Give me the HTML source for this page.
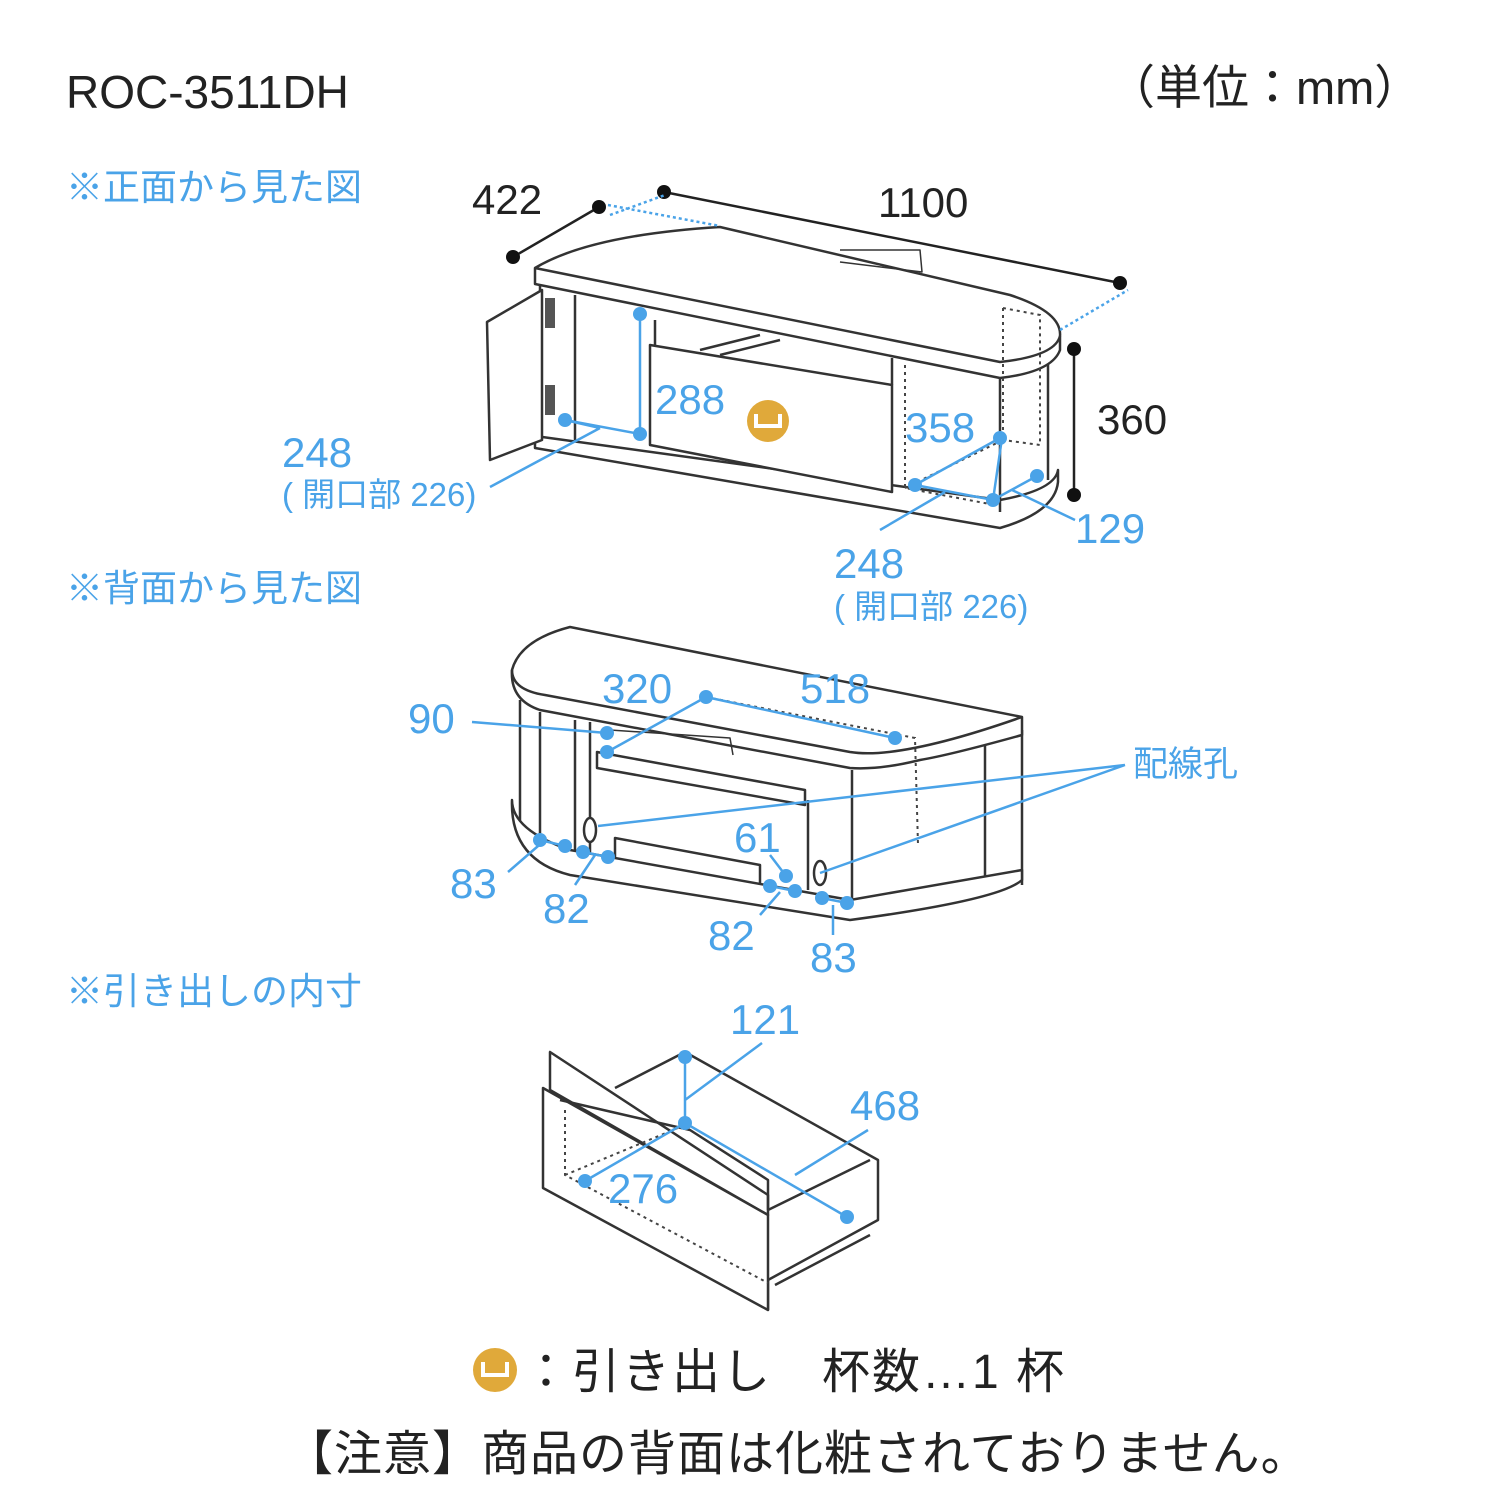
<!DOCTYPE html>
<html><head><meta charset="utf-8"><style>
html,body{margin:0;padding:0;background:#fff;width:1500px;height:1500px;overflow:hidden}
svg text{font-family:"Liberation Sans","Noto Sans CJK JP",sans-serif}
</style></head><body>
<svg width="1500" height="1500" viewBox="0 0 1500 1500" xmlns="http://www.w3.org/2000/svg">
<g fill="#222">
<text x="66" y="108" font-size="46">ROC-3511DH</text>
<text x="1108" y="104" font-size="47">（単位：mm）</text>
</g>
<g fill="#4aa3e8" font-size="37">
<text x="66" y="200">※正面から見た図</text>
<text x="66" y="601">※背面から見た図</text>
<text x="66" y="1004">※引き出しの内寸</text>
</g>

<!-- FRONT VIEW -->
<g fill="#fff" stroke="#333" stroke-width="2.5" stroke-linejoin="round">
<path d="M535,436 L1000,500 Q1055,490 1058,470 L1058,482 Q1055,512 1000,528 L535,448 Z"/>
<path d="M540,285 L540,438 M575,295 L575,440 M1000,378 L1000,512 M1048,355 L1048,480"/>
<path d="M487,322 L542,290 L542,440 L490,460 Z"/>
<path d="M650,345 L892,385 L892,492 L650,445 Z"/>
<path d="M655,320 L655,345 M892,358 L892,385 M700,350 L760,335 M720,355 L780,340"/>
<path d="M535,268 Q590,235 720,227 L1010,295 Q1062,312 1060,336 L1060,350 Q1052,372 1000,378 L535,284 Z"/>
<path d="M535,268 L1000,362 Q1055,356 1060,336" fill="none"/>
<path d="M840,250 L920,250 L922,272 L840,262" fill="none" stroke-width="1.5"/>
</g>
<g fill="none" stroke="#444" stroke-width="2" stroke-dasharray="3,4">
<path d="M905,365 L905,488 L995,505 M1003,308 L1040,315 L1040,445 L1003,440 M1003,308 L1003,440 M905,488 L1003,440"/>
</g>
<g fill="#555"><rect x="545" y="298" width="10" height="30"/><rect x="545" y="385" width="10" height="30"/></g>
<g stroke="#222" stroke-width="2.5">
<line x1="513" y1="257" x2="599" y2="207"/><line x1="664" y1="192" x2="1120" y2="283"/><line x1="1074" y1="349" x2="1074" y2="495"/>
</g>
<g fill="#111"><circle cx="513" cy="257" r="7"/><circle cx="599" cy="207" r="7"/><circle cx="664" cy="192" r="7"/><circle cx="1120" cy="283" r="7"/><circle cx="1074" cy="349" r="7"/><circle cx="1074" cy="495" r="7"/></g>
<g stroke="#4aa3e8" stroke-width="2.5" stroke-dasharray="3,3" fill="none"><path d="M608,205 L720,226 M610,215 L665,195 M1060,330 L1128,290"/></g>
<g stroke="#4aa3e8" stroke-width="2.5" fill="none">
<path d="M565,420 L640,434 M640,434 L640,314 M565,420 L600,428 M490,487 L600,428"/>
<path d="M915,485 L993,500 L1037,476 M1000,438 L915,485 M993,500 L1002,438 M880,530 L945,492 M1012,490 L1075,520"/>
</g>
<g fill="#4aa3e8"><circle cx="565" cy="420" r="7"/><circle cx="640" cy="434" r="7"/><circle cx="640" cy="314" r="7"/><circle cx="915" cy="485" r="7"/><circle cx="993" cy="500" r="7"/><circle cx="1000" cy="438" r="7"/><circle cx="1037" cy="476" r="7"/></g>
<circle cx="768" cy="421" r="21" fill="#e0a93a"/>
<path d="M756,414 L756,426 L780,426 L780,414" fill="none" stroke="#fff" stroke-width="4"/>
<g fill="#222" font-size="42"><text x="472" y="214">422</text><text x="878" y="217">1100</text><text x="1097" y="434">360</text></g>
<g fill="#4aa3e8" font-size="42">
<text x="655" y="414">288</text><text x="282" y="467">248</text><text x="282" y="506" font-size="33">( 開口部 226)</text>
<text x="905" y="442">358</text><text x="1075" y="543">129</text><text x="834" y="578">248</text><text x="834" y="618" font-size="33">( 開口部 226)</text>
</g>

<!-- BACK VIEW -->
<g fill="#fff" stroke="#333" stroke-width="2.5" stroke-linejoin="round">
<path d="M520,700 L520,830 M540,712 L540,845 M575,720 L575,870 M590,722 L590,875 M808,800 L808,890 M852,770 L852,910 M985,740 L985,880 M1022,730 L1022,885"/>
<path d="M597,752 L805,790 L805,805 L597,768 Z"/>
<path d="M615,838 L760,865 L760,890 L615,862 Z"/>
<path d="M512,670 Q520,640 570,627 L1022,717 L1022,735 Q950,755 920,760 Q880,770 850,768 L540,710 Q510,700 512,670 Z" />
<path d="M512,670 Q512,690 545,695 L850,752 Q900,760 1022,717" fill="none"/>
<path d="M512,800 Q512,830 570,850 L850,900 L1022,870 L1022,880 Q1000,900 850,920 L570,875 Q510,860 512,800 Z"/>
<path d="M610,730 L730,738 L733,755" fill="none" stroke-width="1.5"/>
<ellipse cx="590" cy="830" rx="6" ry="12"/><ellipse cx="820" cy="873" rx="6" ry="12"/>
</g>
<g fill="none" stroke="#444" stroke-width="2" stroke-dasharray="3,4"><path d="M706,697 L915,738 L918,845 M706,697 L607,752"/></g>
<g stroke="#4aa3e8" stroke-width="2.5" fill="none">
<path d="M706,697 L895,738 M706,697 L607,752 M607,733 L472,722 M598,826 L1125,765 M820,873 L1125,765 M540,840 L565,846 M583,852 L608,857 M545,840 L508,872 M595,855 L575,885 M770,886 L795,891 M786,876 L770,855 M780,892 L760,915 M822,898 L847,903 M833,905 L833,935"/>
</g>
<g fill="#4aa3e8"><circle cx="706" cy="697" r="7"/><circle cx="895" cy="738" r="7"/><circle cx="607" cy="733" r="7"/><circle cx="607" cy="752" r="7"/><circle cx="540" cy="840" r="7"/><circle cx="565" cy="846" r="7"/><circle cx="583" cy="852" r="7"/><circle cx="608" cy="857" r="7"/><circle cx="786" cy="876" r="7"/><circle cx="770" cy="886" r="7"/><circle cx="795" cy="891" r="7"/><circle cx="822" cy="898" r="7"/><circle cx="847" cy="903" r="7"/></g>
<g fill="#4aa3e8" font-size="42">
<text x="602" y="703">320</text><text x="800" y="703">518</text><text x="408" y="733">90</text><text x="1133" y="776" font-size="35">配線孔</text>
<text x="734" y="852">61</text><text x="450" y="898">83</text><text x="543" y="923">82</text><text x="708" y="950">82</text><text x="810" y="972">83</text>
</g>

<!-- DRAWER -->
<g fill="#fff" stroke="#333" stroke-width="2.5" stroke-linejoin="round">
<path d="M615,1088 L685,1052 L878,1160 L878,1220 L768,1280 L768,1310"/>
<path d="M550,1052 L550,1090 L768,1215 L768,1195 Z"/>
<path d="M543,1088 L768,1215 L768,1310 L543,1188 Z"/>
<path d="M560,1100 L690,1130 L768,1180 L768,1210" fill="none"/>
<path d="M768,1210 L870,1160" fill="none"/>
<path d="M775,1285 L870,1235" fill="none"/>
</g>
<g fill="none" stroke="#444" stroke-width="2" stroke-dasharray="3,4"><path d="M565,1110 L565,1175 L768,1283 M565,1175 L685,1125"/></g>
<g stroke="#4aa3e8" stroke-width="2.5" fill="none"><path d="M685,1057 L685,1123 L847,1217 M685,1123 L585,1181 M685,1100 L762,1043 M795,1175 L868,1130"/></g>
<g fill="#4aa3e8"><circle cx="685" cy="1057" r="7"/><circle cx="685" cy="1123" r="7"/><circle cx="847" cy="1217" r="7"/><circle cx="585" cy="1181" r="7"/></g>
<g fill="#4aa3e8" font-size="42"><text x="730" y="1034">121</text><text x="850" y="1120">468</text><text x="608" y="1203">276</text></g>

<!-- legend -->
<circle cx="495" cy="1370" r="22" fill="#e0a93a"/>
<path d="M483,1362 L483,1375 L507,1375 L507,1362" fill="none" stroke="#fff" stroke-width="4"/>
<g fill="#222"><text x="522" y="1388" font-size="48" letter-spacing="2">：引き出し　杯数…1 杯</text>
<text x="285" y="1470" font-size="48" letter-spacing="1">【注意】商品の背面は化粧されておりません。</text></g>
</svg>
</body></html>
